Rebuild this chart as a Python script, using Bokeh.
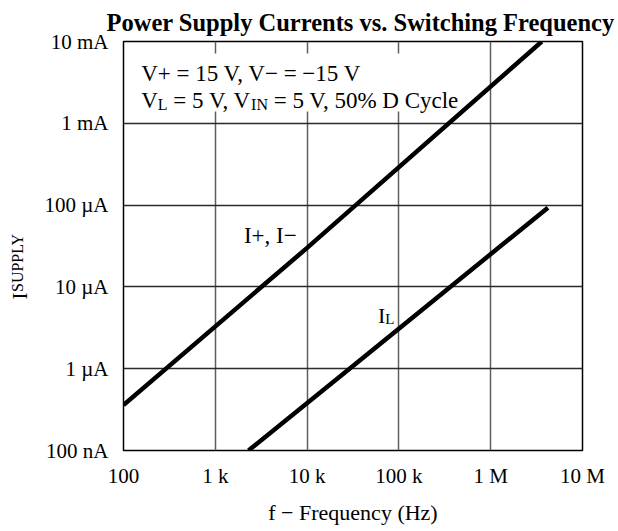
import math
from bokeh.plotting import figure
from bokeh.models import Label, BoxAnnotation, FixedTicker, CustomJSTickFormatter, ColumnDataSource
from bokeh.embed import file_html
from bokeh.resources import INLINE

# ---- data ----
FREQ_IPLUS = [100, 1e4, 3.6e6]          # Hz
I_PLUS = [0.36e-6, 30e-6, 10e-3]        # A  (I+, I-)
FREQ_IL = [2.3e3, 2.9e4, 4.2e6]         # Hz
I_L = [0.1e-6, 1e-6, 93e-6]             # A  (I_L)

X_TICKS = [1e2, 1e3, 1e4, 1e5, 1e6, 1e7]
X_LABELS = ["100", "1 k", "10 k", "100 k", "1 M", "10 M"]
Y_TICKS = [1e-7, 1e-6, 1e-5, 1e-4, 1e-3, 1e-2]
Y_LABELS = ["100 nA", "1 µA", "10 µA", "100 µA", "1 mA", "10 mA"]

TITLE = "Power Supply Currents vs. Switching Frequency"
X_TITLE = "f − Frequency (Hz)"

FONT = "Liberation Serif"

# Times metrics (and one kerning pair) for placing sub-scripted pieces of text
W = {' ': 250, '+': 564, '=': 564, '−': 564, '0': 500, '1': 500, '5': 500,
     'V': 722, ',': 250, 'L': 611, 'I': 333, 'N': 722, '%': 833, 'D': 722,
     'C': 667, 'y': 500, 'c': 444, 'l': 278, 'e': 444, 'S': 556, 'U': 722,
     'P': 556, 'Y': 722}
KERN = {("V", ","): -129}


def tw(s, size):
    w = sum(W.get(c, 500) for c in s)
    w += sum(KERN.get((a, b), 0) for a, b in zip(s, s[1:]))
    return w * size / 1000.0


p = figure(width=618, height=531, x_axis_type="log", y_axis_type="log",
           x_range=(1e2, 1e7), y_range=(1e-7, 1e-2),
           output_backend="svg", toolbar_location=None,
           min_border_left=122, min_border_right=36,
           min_border_top=41, min_border_bottom=81)
p.title.text = TITLE
p.title.align = "left"
p.title.offset = -17
p.title.standoff = 12
p.title.text_font = FONT
p.title.text_font_size = "24.5px"
p.title.text_font_style = "bold"
p.title.text_color = "black"
p.outline_line_color = "black"
p.outline_line_width = 1.5
p.background_fill_color = "white"
p.border_fill_color = "white"

for ax, ticks, labs in ((p.xaxis[0], X_TICKS, X_LABELS), (p.yaxis[0], Y_TICKS, Y_LABELS)):
    ax.ticker = FixedTicker(ticks=ticks, minor_ticks=[])
    ax.formatter = CustomJSTickFormatter(args=dict(vals=ticks, labs=labs), code="""
        let b = 0, d = 1e9;
        for (let i = 0; i < vals.length; i++) {
            const e = Math.abs(Math.log10(tick) - Math.log10(vals[i]));
            if (e < d) { d = e; b = i; }
        }
        return labs[b];""")
    ax.axis_line_color = None
    ax.major_tick_line_color = None
    ax.minor_tick_line_color = None
    ax.major_tick_in = 0
    ax.major_tick_out = 0
    ax.major_label_text_font = FONT
    ax.major_label_text_font_size = "21px"
    ax.major_label_text_color = "black"

p.xaxis.major_label_standoff = 13
p.yaxis.major_label_standoff = 15
p.xaxis.axis_label = X_TITLE
p.xaxis.axis_label_text_font = FONT
p.xaxis.axis_label_text_font_style = "normal"
p.xaxis.axis_label_text_font_size = "22px"
p.xaxis.axis_label_text_color = "black"
p.xaxis.axis_label_standoff = 9

p.xgrid.grid_line_color = "#5e5e5e"
p.xgrid.grid_line_width = 1.5
p.ygrid.grid_line_color = "#2a2a2a"
p.ygrid.grid_line_width = 1.5

# white box behind the condition text
p.add_layout(BoxAnnotation(left=8, right=340, top=397, bottom=339,
                           left_units="screen", right_units="screen",
                           top_units="screen", bottom_units="screen",
                           fill_color="white", fill_alpha=1.0, line_color=None,
                           level="underlay"))

src1 = ColumnDataSource(dict(f=FREQ_IPLUS, i=I_PLUS))
src2 = ColumnDataSource(dict(f=FREQ_IL, i=I_L))
p.line("f", "i", source=src1, line_color="black", line_width=4.5)
p.line("f", "i", source=src2, line_color="black", line_width=4.5)


def mk(text, x, y, size, style="normal", angle=0.0, align="left"):
    return Label(x=x, y=y, x_units="screen", y_units="screen", text=text,
                 text_font=FONT, text_font_size=f"{size}px", text_font_style=style,
                 text_color="black", angle=angle, text_align=align,
                 text_baseline="alphabetic")


def lab(text, x, y, size, **kw):
    p.add_layout(mk(text, x, y, size, **kw))


def runs(pieces, x, y, main, sub, drop):
    """Place a sequence of (text, is_subscript) pieces left to right."""
    for txt, is_sub in pieces:
        size = sub if is_sub else main
        lead = len(txt) - len(txt.lstrip(" "))
        x += tw(" " * lead, size)
        body = txt.strip(" ")
        lab(body, x, y - drop if is_sub else y, size)
        x += tw(txt.lstrip(" "), size)


# condition text
M, S, DROP = 23, 16, 3.5
lab("V+ = 15 V, V− = −15 V", 17.7, 376.7, M)
runs([("V", False), ("L", True), (" = 5 V, V", False), ("IN", True),
      (" = 5 V, 50% D Cycle", False)], 17.7, 350, M, S, DROP)

# curve labels
lab("I+, I−", 120.4, 215, M)
runs([("I", False), ("L", True)], 254.4, 135, 22, 15, DROP)

# y axis title  I_SUPPLY  (placed in the left side panel)
p.add_layout(mk("I", 2, 151, 21, angle=math.pi / 2), "left")
p.add_layout(mk("SUPPLY", 17, 151 + tw("I", 21) + 0.5, 16, angle=math.pi / 2), "left")

open("out.html", "w").write(file_html(p, INLINE))
